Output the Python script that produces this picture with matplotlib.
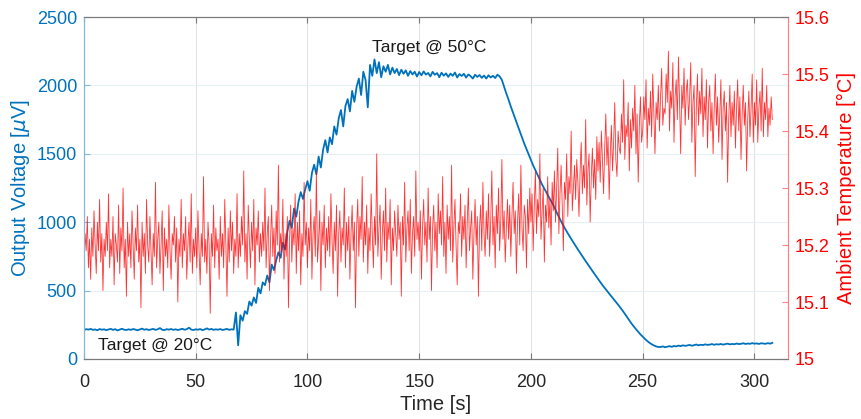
import matplotlib
matplotlib.use("Agg")
import matplotlib.pyplot as plt
import numpy as np

# output voltage [uV], sampled once per second from t = 0 s
voltage_uv = [
    212, 218, 215, 220, 213, 216, 210, 219, 214, 217,
    211, 216, 220, 213, 218, 209, 215, 221, 214, 212,
    217, 213, 219, 215, 210, 216, 222, 214, 218, 212,
    216, 220, 213, 217, 226, 214, 211, 218, 215, 219,
    213, 217, 212, 216, 221, 214, 218, 229, 215, 212,
    217, 214, 219, 211, 216, 224, 215, 220, 213, 217,
    214, 219, 212, 216, 220, 213, 217, 215, 340, 100,
    320, 280, 350, 330, 420, 390, 450, 410, 520, 480,
    560, 540, 610, 560, 690, 650, 720, 780, 740, 850,
    800, 930, 1010, 960, 1100, 1040, 1150, 1220, 1170, 1240,
    1300, 1230, 1360, 1420, 1350, 1480, 1400, 1530, 1600, 1510,
    1620, 1570, 1700, 1640, 1760, 1820, 1700, 1850, 1900, 1810,
    1960, 1880, 1990, 2050, 1930, 2100, 2040, 1840, 2150, 2070,
    2190, 2090, 2170, 2060, 2140, 2100, 2150, 2080, 2130, 2090,
    2120, 2075, 2115, 2085, 2110, 2070, 2105, 2080, 2100, 2065,
    2098, 2074, 2102, 2079, 2091, 2066, 2099, 2078, 2090, 2060,
    2093, 2071, 2088, 2062, 2086, 2070, 2094, 2058, 2083, 2069,
    2085, 2057, 2080, 2068, 2050, 2078, 2062, 2076, 2055, 2072,
    2050, 2074, 2058, 2070, 2054, 2078, 2066, 2040, 1990, 1940,
    1895, 1845, 1800, 1755, 1710, 1665, 1620, 1575, 1535, 1495,
    1455, 1415, 1380, 1345, 1310, 1275, 1245, 1215, 1185, 1155,
    1125, 1090, 1055, 1022, 990, 960, 932, 905, 878, 852,
    826, 801, 776, 751, 727, 703, 679, 655, 632, 609,
    586, 563, 540, 519, 498, 478, 458, 438, 418, 397,
    376, 354, 331, 307, 283, 259, 238, 218, 199, 180,
    163, 147, 132, 119, 108, 99, 92, 88, 88, 92,
    86, 90, 94, 89, 95, 92, 98, 94, 100, 96,
    99, 103, 97, 101, 106, 100, 104, 102, 107, 103,
    105, 109, 104, 108, 106, 110, 105, 109, 112, 107,
    110, 108, 113, 109, 111, 115, 110, 113, 111, 116,
    112, 114, 110, 115, 113, 111, 116, 112, 118,
]

# ambient temperature [degC], sampled every 0.5 s from t = 0 s
temp_c = [
    15.17, 15.22, 15.19, 15.25, 15.16, 15.21, 15.14, 15.23, 15.18, 15.26, 15.20, 15.15, 15.24, 15.19, 15.28, 15.17, 15.22, 15.12, 15.21, 15.18,
    15.24, 15.19, 15.29, 15.16, 15.21, 15.18, 15.25, 15.13, 15.22, 15.20, 15.17, 15.27, 15.15, 15.23, 15.19, 15.30, 15.16, 15.21, 15.11, 15.24,
    15.18, 15.22, 15.16, 15.26, 15.20, 15.14, 15.23, 15.19, 15.27, 15.17, 15.21, 15.09, 15.24, 15.18, 15.22, 15.15, 15.28, 15.20, 15.17, 15.25,
    15.19, 15.13, 15.22, 15.18, 15.31, 15.16, 15.21, 15.24, 15.15, 15.20, 15.26, 15.12, 15.23, 15.18, 15.21, 15.16, 15.27, 15.19, 15.14, 15.22,
    15.20, 15.25, 15.17, 15.23, 15.10, 15.21, 15.18, 15.28, 15.16, 15.22, 15.19, 15.25, 15.14, 15.20, 15.24, 15.17, 15.29, 15.15, 15.21, 15.18,
    15.23, 15.16, 15.26, 15.19, 15.13, 15.22, 15.18, 15.32, 15.17, 15.21, 15.15, 15.24, 15.20, 15.08, 15.22, 15.18, 15.27, 15.16, 15.23, 15.19,
    15.21, 15.14, 15.25, 15.18, 15.22, 15.16, 15.28, 15.20, 15.11, 15.23, 15.17, 15.26, 15.19, 15.24, 15.15, 15.21, 15.18, 15.29, 15.16, 15.22,
    15.18, 15.25, 15.20, 15.33, 15.17, 15.22, 15.14, 15.27, 15.21, 15.16, 15.24, 15.19, 15.28, 15.13, 15.23, 15.20, 15.26, 15.17, 15.22, 15.18,
    15.24, 15.19, 15.30, 15.16, 15.22, 15.25, 15.12, 15.21, 15.27, 15.18, 15.23, 15.15, 15.26, 15.20, 15.34, 15.17, 15.22, 15.19, 15.28, 15.14,
    15.22, 15.18, 15.25, 15.09, 15.21, 15.27, 15.17, 15.23, 15.20, 15.29, 15.15, 15.24, 15.19, 15.26, 15.13, 15.22, 15.18, 15.31, 15.20, 15.24,
    15.16, 15.23, 15.19, 15.28, 15.14, 15.22, 15.25, 15.18, 15.33, 15.17, 15.21, 15.26, 15.12, 15.24, 15.20, 15.27, 15.16, 15.23, 15.19, 15.25,
    15.18, 15.29, 15.21, 15.15, 15.24, 15.19, 15.27, 15.11, 15.22, 15.26, 15.17, 15.23, 15.20, 15.30, 15.16, 15.24, 15.19, 15.25, 15.14, 15.22,
    15.27, 15.19, 15.24, 15.09, 15.23, 15.28, 15.18, 15.25, 15.21, 15.32, 15.17, 15.24, 15.20, 15.27, 15.15, 15.23, 15.19, 15.29, 15.22, 15.16,
    15.25, 15.20, 15.36, 15.18, 15.23, 15.27, 15.14, 15.22, 15.26, 15.19, 15.30, 15.17, 15.24, 15.21, 15.28, 15.13, 15.23, 15.19, 15.26, 15.22,
    15.18, 15.27, 15.21, 15.24, 15.11, 15.25, 15.20, 15.31, 15.17, 15.23, 15.26, 15.19, 15.28, 15.15, 15.22, 15.25, 15.18, 15.33, 15.21, 15.24,
    15.19, 15.26, 15.14, 15.23, 15.28, 15.20, 15.24, 15.17, 15.30, 15.21, 15.25, 15.12, 15.23, 15.27, 15.19, 15.24, 15.16, 15.29, 15.22, 15.26,
    15.20, 15.32, 15.18, 15.24, 15.15, 15.27, 15.21, 15.25, 15.19, 15.34, 15.17, 15.23, 15.28, 15.20, 15.13, 15.24, 15.22, 15.29, 15.18, 15.25,
    15.21, 15.27, 15.16, 15.24, 15.30, 15.19, 15.23, 15.26, 15.14, 15.22, 15.28, 15.20, 15.25, 15.11, 15.23, 15.27, 15.19, 15.31, 15.22, 15.18,
    15.26, 15.21, 15.29, 15.18, 15.24, 15.33, 15.20, 15.25, 15.16, 15.27, 15.22, 15.30, 15.19, 15.24, 15.35, 15.21, 15.26, 15.17, 15.23, 15.28,
    15.21, 15.27, 15.18, 15.25, 15.31, 15.22, 15.26, 15.15, 15.24, 15.29, 15.20, 15.34, 15.23, 15.19, 15.27, 15.25, 15.16, 15.28, 15.22, 15.30,
    15.24, 15.29, 15.19, 15.27, 15.33, 15.22, 15.28, 15.25, 15.36, 15.21, 15.26, 15.30, 15.17, 15.27, 15.24, 15.32, 15.23, 15.28, 15.20, 15.31,
    15.26, 15.33, 15.24, 15.30, 15.37, 15.22, 15.29, 15.34, 15.27, 15.19, 15.31, 15.28, 15.36, 15.25, 15.32, 15.29, 15.40, 15.26, 15.30, 15.34,
    15.28, 15.35, 15.31, 15.25, 15.33, 15.38, 15.29, 15.34, 15.30, 15.42, 15.27, 15.33, 15.36, 15.24, 15.32, 15.37, 15.30, 15.35, 15.28, 15.39,
    15.33, 15.38, 15.31, 15.40, 15.35, 15.29, 15.37, 15.43, 15.34, 15.39, 15.28, 15.36, 15.41, 15.33, 15.38, 15.45, 15.35, 15.32, 15.40, 15.37,
    15.36, 15.43, 15.38, 15.49, 15.35, 15.41, 15.39, 15.45, 15.33, 15.42, 15.37, 15.44, 15.40, 15.48, 15.36, 15.43, 15.31, 15.41, 15.46, 15.38,
    15.40, 15.46, 15.42, 15.49, 15.37, 15.44, 15.41, 15.47, 15.39, 15.50, 15.43, 15.36, 15.45, 15.42, 15.48, 15.40, 15.46, 15.51, 15.41, 15.44,
    15.43, 15.50, 15.45, 15.54, 15.40, 15.47, 15.44, 15.52, 15.38, 15.46, 15.49, 15.42, 15.53, 15.45, 15.36, 15.48, 15.44, 15.51, 15.41, 15.47,
    15.49, 15.42, 15.46, 15.52, 15.38, 15.45, 15.48, 15.32, 15.44, 15.50, 15.41, 15.47, 15.43, 15.51, 15.39, 15.46, 15.42, 15.49, 15.37, 15.45,
    15.48, 15.40, 15.45, 15.36, 15.44, 15.50, 15.41, 15.46, 15.38, 15.43, 15.49, 15.35, 15.44, 15.47, 15.40, 15.45, 15.31, 15.42, 15.48, 15.39,
    15.45, 15.41, 15.47, 15.37, 15.44, 15.49, 15.40, 15.46, 15.35, 15.43, 15.48, 15.41, 15.45, 15.33, 15.42, 15.47, 15.39, 15.44, 15.50, 15.38,
    15.45, 15.41, 15.49, 15.38, 15.44, 15.47, 15.40, 15.51, 15.39, 15.45, 15.42, 15.48, 15.39, 15.44, 15.41, 15.46, 15.42,
]

VOLT_DT = 1.0
TEMP_DT = 0.5
x_ticks = [0, 50, 100, 150, 200, 250, 300]
volt_ticks = [0, 500, 1000, 1500, 2000, 2500]
temp_ticks = [15.0, 15.1, 15.2, 15.3, 15.4, 15.5, 15.6]
temp_tick_labels = ["15", "15.1", "15.2", "15.3", "15.4", "15.5", "15.6"]

BLUE = "#0072BD"
RED = "#FF0000"


def main() -> None:
    plt.rcParams["font.family"] = ["Liberation Sans", "DejaVu Sans"]
    plt.rcParams["mathtext.fontset"] = "dejavusans"

    t_volt = np.arange(len(voltage_uv)) * VOLT_DT
    t_temp = np.arange(len(temp_c)) * TEMP_DT

    fig = plt.figure(figsize=(8.62, 4.19), dpi=100)
    ax = fig.add_axes([0.0974, 0.1432, 0.8167, 0.8162])
    ax2 = ax.twinx()

    ax.plot(t_volt, voltage_uv, color=BLUE, linewidth=1.3)
    ax2.plot(t_temp, temp_c, color=RED, linewidth=0.6, alpha=0.8)

    ax.set_xlim(0, 315)
    ax.set_ylim(0, 2500)
    ax2.set_ylim(15.0, 15.6)
    ax.set_xticks(x_ticks)
    ax.set_yticks(volt_ticks)
    ax2.set_yticks(temp_ticks)
    ax2.set_yticklabels(temp_tick_labels)

    ax.grid(axis="x", color="#e2e2e2", linewidth=0.8)
    ax.grid(axis="y", color="#e6eef6", linewidth=0.8)
    ax.set_axisbelow(True)

    for a in (ax, ax2):
        a.spines["top"].set_color("#7a7a7a")
        a.spines["bottom"].set_color("#7a7a7a")
        a.spines["left"].set_color("#80b8de")
        a.spines["right"].set_color("#ff8080")
    ax.tick_params(axis="x", direction="in", top=True, length=4.5, color="#7a7a7a",
                   labelsize=13, labelcolor="#262626", pad=10.5)
    ax.tick_params(axis="y", direction="in", length=4.5, color="#80b8de",
                   labelsize=13, labelcolor=BLUE, pad=5)
    ax2.tick_params(axis="y", direction="in", length=4.5, color="#ff8080",
                    labelsize=13, labelcolor=RED, pad=5)

    ax.set_xlabel("Time [s]", fontsize=14.5, color="#262626", labelpad=3)
    ax.set_ylabel(r"Output Voltage [$\mu$V]", fontsize=14.5, color=BLUE, labelpad=3)
    ax2.set_ylabel("Ambient Temperature [°C]", fontsize=14.5, color=RED, labelpad=5)

    ax.text(154.5, 2280, "Target @ 50°C", fontsize=12.5, ha="center", va="center", color="#1a1a1a")
    ax.text(32, 102, "Target @ 20°C", fontsize=12.5, ha="center", va="center", color="#1a1a1a")

    fig.savefig("out.png", dpi=100)
    plt.close(fig)


if __name__ == "__main__":
    main()
